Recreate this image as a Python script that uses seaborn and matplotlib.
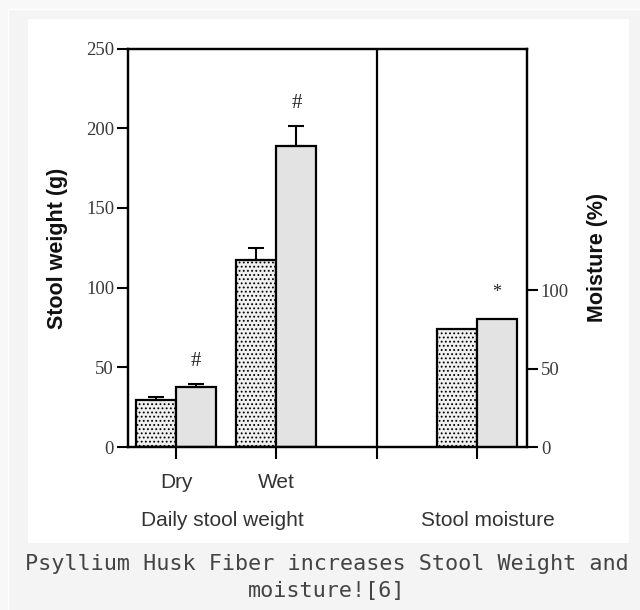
import numpy as np
import pandas as pd
import seaborn as sns
import matplotlib.pyplot as plt
from matplotlib.patches import Rectangle


# Values
groups = ['Dry', 'Wet']
treatments = ['Placebo', 'Psyllium']
weight_placebo = [29.3, 117.4]
weight_psyllium = [37.6, 188.7]
err_placebo = [2.0, 7.3]
err_psyllium = [2.0, 12.8]
moisture_placebo = [75.5]
moisture_psyllium = [81.5]
weight_marks = ['#', '#']
moisture_mark = '*'

order = ['Dry', 'Wet', 'gap', 'Moisture']
tick_labels = ['Dry', 'Wet', '', '']

df_w = pd.DataFrame({'group': groups * 2,
                     'treatment': ['Placebo'] * 2 + ['Psyllium'] * 2,
                     'value': weight_placebo + weight_psyllium})
df_m = pd.DataFrame({'group': ['Moisture'] * 2,
                     'treatment': treatments,
                     'value': moisture_placebo + moisture_psyllium})

pal = {'Placebo': '#f0f0f0', 'Psyllium': '#e3e3e3'}
plt.rcParams['hatch.linewidth'] = 0.8

fig = plt.figure(figsize=(6.4, 6.1), dpi=100, facecolor='#f8f8f8')
W, H = 640, 610
# page background + white image panel (behind the axes)
fig.patches.append(Rectangle((8 / W, -0.1), 1.1, 1 - 9 / H + 0.1, transform=fig.transFigure,
                             facecolor='#f4f4f4', edgecolor='white', lw=1, zorder=-3))
fig.patches.append(Rectangle((28 / W, 1 - 543 / H), 601 / W, 524 / H, transform=fig.transFigure,
                             facecolor='white', edgecolor='none', zorder=-2))

ax = fig.add_axes([128 / W, 1 - 447 / H, 399 / W, 398.5 / H])
ax.patch.set_alpha(0)

sns.barplot(data=df_w, x='group', y='value', hue='treatment', order=order,
            hue_order=treatments, palette=pal, saturation=1, edgecolor='black',
            linewidth=1.6, errorbar=None, legend=False, ax=ax)
for bar in ax.containers[0]:
    bar.set_hatch('....')

# upper error bars + significance marks
for cont, vals, errs in zip(ax.containers, [weight_placebo, weight_psyllium], [err_placebo, err_psyllium]):
    xs = [b.get_x() + b.get_width() / 2 for b in cont]
    ax.errorbar(xs, vals, yerr=[np.zeros(len(errs)), errs], fmt='none', ecolor='black',
                elinewidth=1.5, capsize=6, capthick=1.5, zorder=1)
for b, v, e, m in zip(ax.containers[1], weight_psyllium, err_psyllium, weight_marks):
    ax.text(b.get_x() + b.get_width() / 2, v + e + 14, m, ha='center', va='center',
            fontsize=15, family='Liberation Serif', color='#222')

ax2 = ax.twinx()
sns.barplot(data=df_m, x='group', y='value', hue='treatment', order=order,
            hue_order=treatments, palette=pal, saturation=1, edgecolor='black',
            linewidth=1.6, errorbar=None, legend=False, ax=ax2)
for bar in ax2.containers[0]:
    bar.set_hatch('....')
b = ax2.containers[1][0]
ax2.text(b.get_x() + b.get_width() / 2, moisture_psyllium[0] + 17, moisture_mark,
         ha='center', va='center', fontsize=13, family='Liberation Serif', color='#222')

ax.axvline(2, color='black', lw=1.6)

ax.set_xlim(-0.48, 3.5)
ax.set_ylim(0, 250)
ax2.set_ylim(0, 254)
ax.set_xticks(range(len(order)), labels=tick_labels, fontsize=15,
              family='Liberation Sans', color='#333')
ax.set_yticks(range(0, 251, 50), labels=[str(v) for v in range(0, 251, 50)],
              fontsize=13.5, family='Liberation Serif', color='#3a3a3a')
ax2.set_yticks([0, 50, 100], labels=['0', '50', '100'],
               fontsize=13.5, family='Liberation Serif', color='#3a3a3a')
ax.set_xlabel('')
ax.set_ylabel('')
ax2.set_xlabel('')
ax2.set_ylabel('')

ax.tick_params(axis='x', length=8.5, width=1.5, pad=10)
ax.tick_params(axis='y', length=8, width=1.5, pad=2)
ax2.tick_params(axis='y', length=8, width=1.5, pad=2)
for a in (ax, ax2):
    for s in a.spines.values():
        s.set_linewidth(1.6)
        s.set_color('black')

fig.text(58 / W, 1 - 248 / H, 'Stool weight (g)', rotation=90, ha='center', va='center',
         fontsize=15.5, fontweight='bold', family='Liberation Sans', color='#111')
fig.text(598 / W, 1 - 257 / H, 'Moisture (%)', rotation=90, ha='center', va='center',
         fontsize=15.5, fontweight='bold', family='Liberation Sans', color='#111')
fig.text(222 / W, 1 - 520 / H, 'Daily stool weight', ha='center', va='center',
         fontsize=15, family='Liberation Sans', color='#333')
fig.text(488 / W, 1 - 520 / H, 'Stool moisture', ha='center', va='center',
         fontsize=15, family='Liberation Sans', color='#333')

fig.text(327 / W, 1 - 564 / H, 'Psyllium Husk Fiber increases Stool Weight and',
         ha='center', va='center', fontsize=15.7, family='DejaVu Sans Mono', color='#444')
fig.text(327 / W, 1 - 591 / H, 'moisture![6]',
         ha='center', va='center', fontsize=15.7, family='DejaVu Sans Mono', color='#444')

fig.savefig('out.png', dpi=100, facecolor=fig.get_facecolor())
